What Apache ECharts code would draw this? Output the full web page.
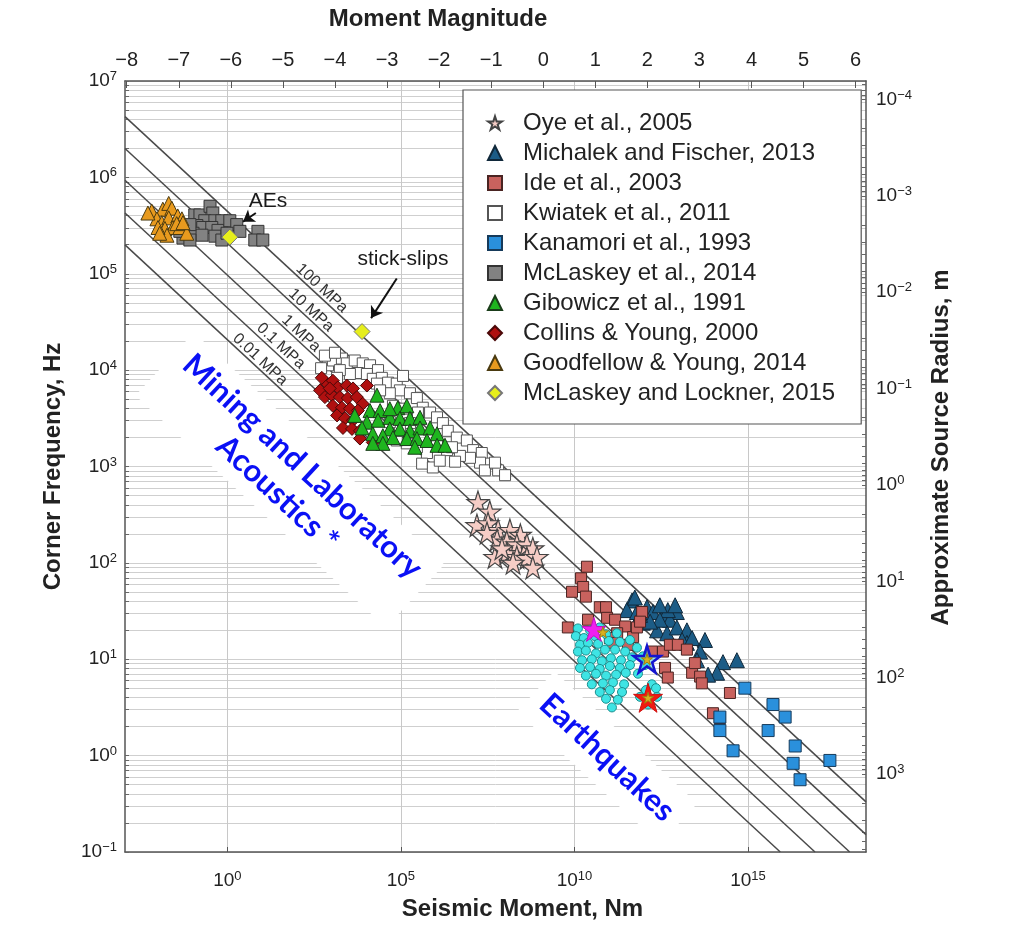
<!DOCTYPE html>
<html><head><meta charset="utf-8">
<script src="https://cdn.jsdelivr.net/npm/echarts@6/dist/echarts.min.js"></script>
<style>html,body{margin:0;padding:0;background:#fff}#c{width:1023px;height:938px}</style>
</head><body><div id="c"></div>
<script>
// All values: [log10 seismic moment (N·m), log10 corner frequency (Hz)]
const oye = [[7.22,2.63],[7.56,2.53],[7.19,2.39],[7.51,2.41],[7.80,2.34],[8.14,2.34],[8.44,2.29],[7.77,2.24],[8.05,2.22],[8.34,2.19],[8.63,2.19],[8.80,2.15],[7.71,2.06],[8.05,2.10],[8.34,2.06],[8.63,2.05],[8.92,2.06],[8.80,1.95],[8.23,2.00],[7.91,2.15],[7.48,2.31]];
const michalek = [[11.66,1.61],[11.51,1.51],[11.80,1.49],[12.09,1.54],[12.26,1.49],[12.55,1.44],[12.95,1.49],[12.75,1.41],[11.97,1.38],[12.38,1.30],[12.67,1.27],[12.95,1.33],[13.24,1.30],[13.24,1.17],[11.74,1.64],[12.69,1.51],[12.90,1.56],[12.46,1.41],[12.18,1.39],[13.10,1.20],[13.39,1.22],[13.76,1.20],[13.62,1.08],[14.28,0.97],[14.68,0.99],[14.11,0.86],[13.85,0.84],[13.53,0.99],[11.89,1.46],[12.46,1.56]];
const ide = [[10.36,1.96],[10.19,1.84],[10.25,1.75],[9.93,1.70],[10.33,1.65],[10.73,1.54],[10.91,1.54],[10.39,1.41],[10.94,1.43],[11.17,1.41],[9.81,1.33],[11.46,1.34],[11.23,1.27],[11.02,1.22],[11.69,1.23],[11.80,1.33],[11.95,1.49],[11.89,1.39],[12.23,1.08],[12.55,1.08],[12.75,1.15],[12.98,1.15],[12.61,0.91],[12.69,0.81],[13.39,0.86],[13.47,0.96],[13.62,0.82],[13.67,0.75],[14.48,0.65],[13.99,0.44],[14.19,0.39],[11.11,1.17],[11.54,1.15],[13.24,1.10]];
const kwiatek = [[2.90,4.05],[3.04,4.10],[3.30,4.12],[3.44,4.07],[3.67,4.10],[3.90,4.07],[4.11,4.05],[4.34,4.00],[3.76,3.97],[3.53,3.96],[3.24,4.00],[3.16,3.92],[4.02,3.96],[4.19,3.91],[4.45,3.92],[4.63,3.87],[4.88,3.86],[5.06,3.94],[4.97,3.79],[5.26,3.76],[5.46,3.71],[5.63,3.61],[5.49,3.56],[5.84,3.56],[6.04,3.51],[6.21,3.45],[6.35,3.37],[6.61,3.30],[6.90,3.27],[7.08,3.17],[7.33,3.14],[7.56,3.03],[7.80,2.96],[7.28,3.04],[6.99,3.09],[6.70,3.11],[6.33,3.17],[6.04,3.24],[5.75,3.14],[5.46,3.20],[5.17,3.24],[4.88,3.27],[4.60,3.30],[5.61,3.03],[5.92,2.99],[6.12,3.06],[6.47,3.20],[4.31,3.86],[4.68,3.76],[4.77,3.63],[5.06,3.60],[5.26,3.45],[4.97,3.37],[4.68,3.46],[4.40,3.79],[2.81,4.15],[2.70,4.02],[3.10,4.18],[6.56,3.05],[7.42,2.96],[8.00,2.91],[7.71,3.04]];
const kanamori = [[14.91,0.70],[15.72,0.53],[16.07,0.40],[15.58,0.26],[14.19,0.40],[14.19,0.26],[14.57,0.05],[16.36,0.10],[16.30,-0.08],[17.36,-0.05],[16.50,-0.25]];
const mclaskey2014 = [[-0.94,5.61],[-0.79,5.61],[-0.50,5.70],[-0.42,5.63],[-0.65,5.55],[-0.36,5.55],[-0.16,5.55],[-0.88,5.50],[-0.71,5.48],[-0.45,5.48],[-0.27,5.45],[-0.99,5.42],[-0.73,5.40],[-1.28,5.37],[-1.08,5.35],[-0.36,5.39],[-0.16,5.35],[0.07,5.55],[0.27,5.51],[0.36,5.44],[0.88,5.44],[0.79,5.35],[1.02,5.35],[-1.08,5.51],[-0.01,5.42],[-1.37,5.44]];
const gibowicz = [[3.67,3.53],[4.31,3.74],[4.11,3.58],[4.40,3.58],[4.02,3.46],[4.34,3.48],[4.68,3.51],[4.91,3.61],[5.17,3.63],[4.97,3.50],[5.26,3.50],[5.55,3.51],[4.68,3.39],[4.97,3.39],[5.26,3.37],[5.55,3.40],[5.84,3.40],[6.04,3.34],[4.19,3.34],[4.48,3.32],[4.77,3.30],[5.17,3.29],[5.46,3.29],[5.75,3.27],[6.04,3.22],[6.27,3.22],[5.40,3.20],[4.48,3.24],[4.19,3.24],[4.68,3.60],[3.88,3.40]];
const collins = [[2.67,3.79],[2.87,3.86],[3.04,3.89],[3.18,3.82],[3.44,3.84],[3.62,3.81],[2.81,3.72],[3.01,3.74],[3.24,3.72],[3.47,3.71],[3.73,3.72],[3.90,3.65],[3.04,3.63],[3.30,3.61],[3.53,3.60],[3.76,3.58],[3.16,3.53],[3.39,3.50],[3.62,3.48],[3.33,3.40],[3.59,3.39],[3.82,3.37],[3.82,3.29],[4.19,3.25],[4.02,3.84],[2.95,3.81],[2.72,3.92]];
const goodfellow = [[-2.18,5.65],[-1.86,5.67],[-1.69,5.73],[-1.60,5.68],[-2.03,5.57],[-1.89,5.53],[-1.69,5.58],[-1.43,5.60],[-1.31,5.57],[-1.80,5.47],[-1.57,5.48],[-1.37,5.48],[-1.17,5.42],[-1.74,5.40],[-2.00,5.48],[-1.46,5.52],[-1.28,5.53],[-1.95,5.42],[-2.29,5.63]];
const mclaskeyLockner = [[0.07,5.38],[3.88,4.40]];
const earthquakesCyan = [[10.10,1.32],[10.45,1.30],[10.73,1.33],[10.04,1.24],[10.27,1.22],[10.59,1.24],[10.91,1.26],[11.22,1.27],[10.16,1.15],[10.39,1.17],[10.68,1.16],[10.99,1.19],[11.31,1.18],[11.60,1.20],[10.10,1.08],[10.33,1.09],[10.62,1.06],[10.88,1.10],[11.17,1.10],[11.46,1.08],[11.80,1.12],[10.22,0.99],[10.50,1.00],[10.79,0.98],[11.05,1.01],[11.34,0.99],[11.66,1.02],[11.97,1.03],[10.16,0.91],[10.45,0.92],[10.73,0.90],[11.02,0.93],[11.31,0.91],[11.60,0.94],[12.03,0.94],[10.33,0.83],[10.62,0.85],[10.91,0.83],[11.20,0.84],[11.48,0.86],[11.83,0.85],[10.50,0.74],[10.82,0.75],[11.11,0.76],[11.43,0.74],[12.23,0.74],[10.73,0.66],[11.02,0.68],[11.37,0.66],[12.06,0.68],[12.35,0.70],[10.91,0.59],[11.25,0.58],[11.89,0.61],[12.38,0.61],[11.08,0.50],[12.12,0.53]];
const starMagenta = [[10.56,1.31]];
const starBlue = [[12.09,1.00]];
const starRed = [[12.12,0.60]];
const starInner = [[10.82,1.28],[12.09,1.00],[12.12,0.60]];

// constant stress-drop lines (end points) and their labels
const stressLabels = ['100 MPa','10 MPa','1 MPa','0.1 MPa','0.01 MPa'];
const stressLines = [
  [[-2.95,6.63],[18.4,-0.48]],
  [[-2.95,6.30],[18.4,-0.82]],
  [[-2.95,5.97],[17.93,-1]],
  [[-2.95,5.63],[16.93,-1]],
  [[-2.95,5.30],[15.93,-1]]
];
const stressLabelPos = [[2.72,4.85],[2.41,4.62],[2.12,4.38],[1.54,4.25],[0.94,4.11]];

// annotations
const noteTexts = ['AEs','stick-slips'];
const notePos = [[1.17,5.75],[5.06,5.15]];
const arrowSegs = [ [[0.82,5.63],[0.45,5.54]], [[4.88,4.95],[4.14,4.54]] ];
const regionTexts = ['Mining and Laboratory\nAcoustics *','Earthquakes'];
const regionPos = [[1.80,2.86],[10.94,-0.02]];

// axes
const X_MIN = -2.95, X_MAX = 18.4;      // log10 moment
const Y_MIN = -1, Y_MAX = 7;            // log10 corner frequency
const R_MIN = -4.192, R_MAX = 3.808;    // log10 source radius (inverted)
const MW_MIN = -8.033, MW_MAX = 6.2;    // moment magnitude
const xLabelExps = [0,5,10,15];
const yLabelExps = [-1,0,1,2,3,4,5,6,7];
const rLabelExps = [-4,-3,-2,-1,0,1,2,3];
const mwTicks = [-8,-7,-6,-5,-4,-3,-2,-1,0,1,2,3,4,5,6];

const yMinor = [];
for (let n = -1; n < 7; n++) for (let k = 1; k < 10; k++) yMinor.push(n + Math.log10(k));
yMinor.push(7);
const rMinor = [];
for (let n = -5; n < 4; n++) for (let k = 1; k < 10; k++) { const v = n + Math.log10(k); if (v >= R_MIN && v <= R_MAX) rMinor.push(v); }

const FONT = '"Liberation Sans", Arial, Helvetica, sans-serif';
const STAR = 'path://M50,0L61.2,34.5L97.6,34.5L68.2,55.9L79.4,90.5L50,69.1L20.6,90.5L31.8,55.9L2.4,34.5L38.8,34.5Z';
const minus = v => { const r = Math.round(v); return r < 0 ? '\u2212' + Math.abs(r) : String(r); };
const pow10 = v => '{b|10}{s|' + minus(v) + '}';
const supRich = {
  b: {fontSize: 19, fontFamily: FONT, color: '#222', lineHeight: 22},
  s: {fontSize: 13, fontFamily: FONT, color: '#222', lineHeight: 12, verticalAlign: 'top'}
};
const nameStyle = (pad) => ({fontSize: 24, fontWeight: 'bold', fontFamily: FONT, color: '#222', padding: pad});
const axisLine = {show: true, onZero: false, lineStyle: {color: '#555', width: 1.5}};
const hidden = {color: 'rgba(0,0,0,0)', opacity: 1};

function sc(name, data, symbol, size, fill, stroke, bw) {
  return {name, type: 'scatter', data, symbol, symbolSize: size, z: 3, silent: true,
    itemStyle: {color: fill, borderColor: stroke, borderWidth: bw == null ? 1 : bw, opacity: 1},
    emphasis: {disabled: true}};
}

const series = [];
stressLines.forEach((pts, i) => series.push({
  type: 'line', name: '_stress' + i, data: pts, symbol: 'none', z: 2, silent: true, clip: true,
  lineStyle: {color: '#4a4a4a', width: 1.5}
}));
series.push({
  type: 'scatter', name: '_regions', z: 1, silent: true, symbolSize: 0.1, itemStyle: hidden,
  data: regionPos.map((p, i) => ({value: p, label: {show: true, position: 'inside', formatter: regionTexts[i],
    rotate: -42.8, fontSize: 31, fontWeight: 'bold', fontFamily: 'Lato, sans-serif', color: '#0a10f5', opacity: 1,
    lineHeight: 37, align: 'center', backgroundColor: '#ffffff', padding: i === 0 ? [6, 14] : [9, 12]}}))
});
series.push({
  type: 'scatter', name: '_stressLabels', z: 2, silent: true, symbolSize: 0.1, itemStyle: hidden,
  data: stressLabelPos.map((p, i) => ({value: p, label: {show: true, position: 'inside', formatter: stressLabels[i],
    rotate: -42.8, fontSize: 16, fontFamily: FONT, color: '#333', opacity: 1}}))
});
series.push(sc('Kwiatek et al., 2011', kwiatek, 'rect', 11, '#ffffff', '#555'));
series.push(sc('Collins & Young, 2000', collins, 'diamond', 13, '#b01010', '#4a0808'));
series.push(sc('Gibowicz et al., 1991', gibowicz, 'triangle', 14, '#1fb51f', '#1a3d1a'));
series.push(sc('McLaskey et al., 2014', mclaskey2014, 'rect', 12, '#828282', '#333'));
series.push(sc('Goodfellow & Young, 2014', goodfellow, 'triangle', 14, '#e89a1e', '#4a3a10'));
series.push(sc('McLaskey and Lockner, 2015', mclaskeyLockner, 'diamond', 16, '#e6ee1c', '#777'));
series.push(sc('Oye et al., 2005', oye, STAR, 22, '#f6cdc6', '#444', 1.2));
series.push(sc('Michalek and Fischer, 2013', michalek, 'triangle', 15, '#1c5c86', '#10283a'));
series.push(sc('Ide et al., 2003', ide, 'rect', 11, '#c8625e', '#4a2422'));
series.push(sc('_cyan', earthquakesCyan, 'circle', 9, '#3ee4e4', '#1a8f8f'));
series.push(sc('Kanamori et al., 1993', kanamori, 'rect', 12, '#2a90dc', '#163a5a'));
series.push(sc('_starMagenta', starMagenta, STAR, 24, '#f020f0', '#c010c0'));
series.push(sc('_starBlue', starBlue, STAR, 27, 'rgba(60,200,220,0.5)', '#1414d0', 2.5));
series.push(sc('_starRed', starRed, STAR, 29, '#f01a10', '#d01010'));
series.push(sc('_starInner', starInner, STAR, 11, '#d8b020', '#a08010'));
series.push({
  type: 'scatter', name: '_notes', z: 5, silent: true, symbolSize: 0.1, itemStyle: hidden,
  data: notePos.map((p, i) => ({value: p, label: {show: true, position: 'inside', formatter: noteTexts[i],
    fontSize: 21, fontFamily: FONT, color: '#1a1a1a', opacity: 1}})),
  markLine: {silent: true, animation: false, symbol: ['none', 'arrow'], symbolSize: 11,
    lineStyle: {color: '#111', width: 2, type: 'solid', opacity: 1}, label: {show: false}, emphasis: {disabled: true},
    data: arrowSegs.map(s => [{coord: s[0]}, {coord: s[1]}])}
});

const legendOrder = ['Oye et al., 2005','Michalek and Fischer, 2013','Ide et al., 2003','Kwiatek et al., 2011','Kanamori et al., 1993','McLaskey et al., 2014','Gibowicz et al., 1991','Collins & Young, 2000','Goodfellow & Young, 2014','McLaskey and Lockner, 2015'];

const chart = echarts.init(document.getElementById('c'), null, {renderer: 'canvas'});
chart.setOption({
  animation: false,
  backgroundColor: '#ffffff',
  grid: {left: 125, right: 157, top: 81, bottom: 86, containLabel: false, outerBoundsMode: 'none'},
  legend: {
    data: legendOrder, orient: 'vertical', left: 463, top: 90,
    padding: [21, 26, 19, 24], itemWidth: 14, itemHeight: 14, itemGap: 6,
    backgroundColor: '#fff', borderColor: '#555', borderWidth: 1.2, selectedMode: false, z: 10,
    textStyle: {fontSize: 24, fontFamily: FONT, color: '#222', lineHeight: 24, padding: [0, 0, 0, 16]}
  },
  xAxis: [
    {type: 'value', position: 'bottom', min: X_MIN, max: X_MAX,
     name: 'Seismic Moment, Nm', nameLocation: 'middle', nameGap: 45, nameMoveOverlap: false,
     nameTextStyle: nameStyle([0, 0, 0, 54]), axisLine,
     axisTick: {show: true, inside: true, length: 5, customValues: xLabelExps, lineStyle: {color: '#555'}},
     axisLabel: {customValues: xLabelExps, formatter: pow10, rich: supRich, margin: 18},
     splitLine: {show: true, lineStyle: {color: '#c8c8c8', width: 1}}},
    {type: 'value', position: 'top', min: MW_MIN, max: MW_MAX,
     name: 'Moment Magnitude', nameLocation: 'middle', nameGap: 50, nameMoveOverlap: false,
     nameTextStyle: nameStyle([0, 115, 0, 0]), axisLine,
     axisTick: {show: true, inside: true, length: 7, customValues: mwTicks, lineStyle: {color: '#555'}},
     axisLabel: {customValues: mwTicks, formatter: minus, fontSize: 20, fontFamily: FONT, color: '#222', margin: 11},
     splitLine: {show: false}}
  ],
  yAxis: [
    {type: 'value', position: 'left', min: Y_MIN, max: Y_MAX,
     name: 'Corner Frequency, Hz', nameLocation: 'middle', nameRotate: 90, nameGap: 60, nameMoveOverlap: false,
     nameTextStyle: nameStyle([0, 0, 0, 0]), axisLine,
     axisTick: {show: true, inside: true, length: 4, customValues: yMinor, lineStyle: {color: '#666'}},
     axisLabel: {customValues: yLabelExps, formatter: pow10, rich: supRich, margin: 8},
     splitLine: {show: true, lineStyle: {color: '#cfcfcf', width: 1}}},
    {type: 'value', position: 'right', min: R_MIN, max: R_MAX, inverse: true,
     name: 'Approximate Source Radius, m', nameLocation: 'middle', nameRotate: 90, nameGap: 63, nameMoveOverlap: false,
     nameTextStyle: nameStyle([0, 0, 0, 38]), axisLine,
     axisTick: {show: true, inside: true, length: 4, customValues: rMinor, lineStyle: {color: '#666'}},
     axisLabel: {customValues: rLabelExps, formatter: pow10, rich: supRich, margin: 10},
     splitLine: {show: false}}
  ],
  series
});
</script></body></html>
